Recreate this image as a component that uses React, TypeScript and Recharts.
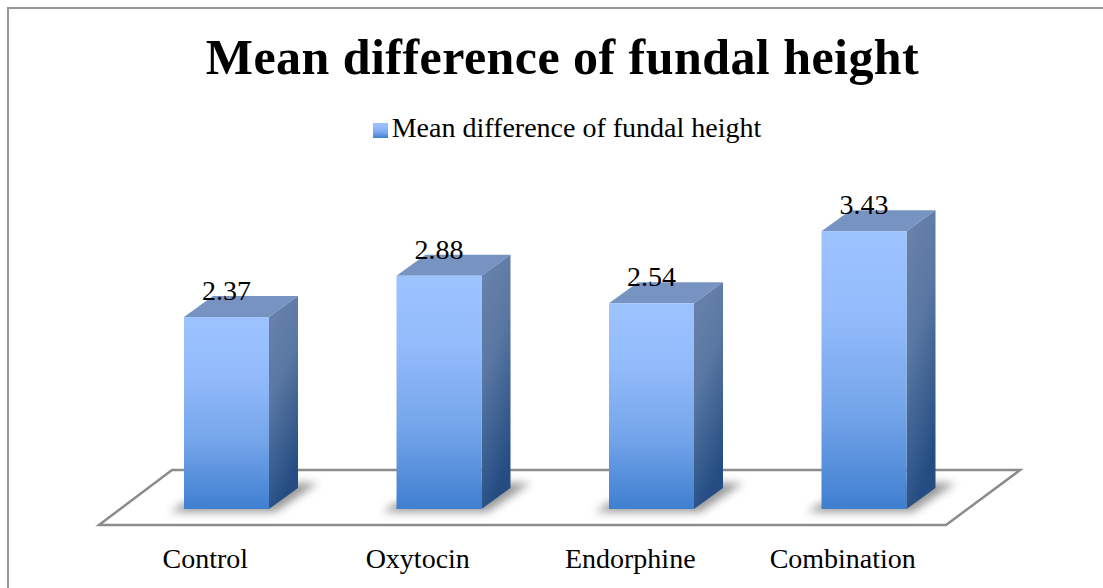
import React from 'react';
import { BarChart, Bar, LabelList, Legend, ReferenceArea, XAxis, YAxis } from 'recharts';

const categories = ['Control', 'Oxytocin', 'Endorphine', 'Combination'];
const meanDifference = [2.37, 2.88, 2.54, 3.43];
const seriesName = 'Mean difference of fundal height';

const data = categories.map((name, i) => ({ name, value: meanDifference[i] }));

const FONT = '"Liberation Serif", serif';
const DEPTH_X = 29;
const DEPTH_Y = 21;

const Bar3D = ({ x, y, width, height }: any) => {
  const r = x + width;
  const b = y + height;
  return (
    <g>
      <polygon
        points={`${x - 14},${b + 3} ${r + 6},${b + 3} ${r + DEPTH_X + 20},${b - DEPTH_Y - 5} ${r},${b - DEPTH_Y - 5} ${x},${b - 6}`}
        fill="#555"
        opacity={0.6}
        filter="url(#floorBlur)"
      />
      <polygon
        points={`${x},${y} ${r},${y} ${r + DEPTH_X},${y - DEPTH_Y} ${x + DEPTH_X},${y - DEPTH_Y}`}
        fill="#7793c2"
      />
      <polygon
        points={`${r},${y} ${r + DEPTH_X},${y - DEPTH_Y} ${r + DEPTH_X},${b - DEPTH_Y} ${r},${b}`}
        fill="url(#sideFill)"
      />
      <rect x={x} y={y} width={width} height={height} fill="url(#frontFill)" />
    </g>
  );
};

const Floor = ({ x, y, width, height }: any) => (
  <polygon
    points={`${x - 21},${y + height} ${x + width - 24},${y + height} ${x + width + 50},${y} ${x + 52},${y}`}
    fill="#fff"
    stroke="#8c8c8c"
    strokeWidth={2.5}
  />
);

const App = () => (
  <div
    style={{
      position: 'absolute',
      left: 0,
      top: 0,
      width: 1103,
      height: 588,
      overflow: 'hidden',
      background: '#fff',
    }}
  >
    {/* chart frame: only the left and top edges are inside the picture */}
    <div
      style={{
        position: 'absolute',
        left: 7,
        top: 7,
        width: 1200,
        height: 700,
        border: '2px solid #969696',
      }}
    />
    <div
      style={{
        position: 'absolute',
        left: 0,
        width: 1125,
        top: 28,
        textAlign: 'center',
        fontFamily: FONT,
        fontWeight: 'bold',
        fontSize: 50,
        letterSpacing: 0.45,
        lineHeight: '58px',
        color: '#000',
      }}
    >
      {seriesName}
    </div>
    <div style={{ position: 'absolute', left: 0, top: 0 }}>
      <BarChart
        width={1103}
        height={588}
        data={data}
        margin={{ top: 153, right: 133, bottom: 49, left: 120 }}
        barSize={85}
      >
        <defs>
          <linearGradient id="frontFill" x1="0" y1="0" x2="0" y2="1">
            <stop offset="0" stopColor="#9dc3ff" />
            <stop offset="0.3" stopColor="#93bbfb" />
            <stop offset="0.65" stopColor="#74a5ea" />
            <stop offset="1" stopColor="#3f7fd0" />
          </linearGradient>
          <linearGradient id="sideFill" x1="0" y1="0" x2="0.3" y2="1">
            <stop offset="0" stopColor="#6a84ad" />
            <stop offset="0.45" stopColor="#5a78a3" />
            <stop offset="1" stopColor="#254d83" />
          </linearGradient>
          <filter id="floorBlur" x="-30%" y="-60%" width="160%" height="220%">
            <feGaussianBlur stdDeviation="4" />
          </filter>
        </defs>
        <XAxis
          dataKey="name"
          axisLine={false}
          tickLine={false}
          interval={0}
          tickMargin={33}
          tick={{ fill: '#000', fontFamily: FONT, fontSize: 28, dx: -21 }}
        />
        <YAxis hide domain={[0, 4]} />
        <ReferenceArea y1={-0.197} y2={0.48} ifOverflow="visible" shape={<Floor />} />
        <Legend
          verticalAlign="top"
          iconType="square"
          iconSize={15}
          wrapperStyle={{ top: 112, left: 0, width: 1144, fontFamily: FONT, fontSize: 28 }}
          formatter={(value: string) => <span style={{ color: '#000' }}>{value}</span>}
        />
        <Bar
          dataKey="value"
          name={seriesName}
          fill="url(#frontFill)"
          shape={<Bar3D />}
          isAnimationActive={false}
        >
          <LabelList
            dataKey="value"
            position="top"
            offset={17}
            fill="#000"
            fontFamily={FONT}
            fontSize={28}
          />
        </Bar>
      </BarChart>
    </div>
  </div>
);

export default App;
